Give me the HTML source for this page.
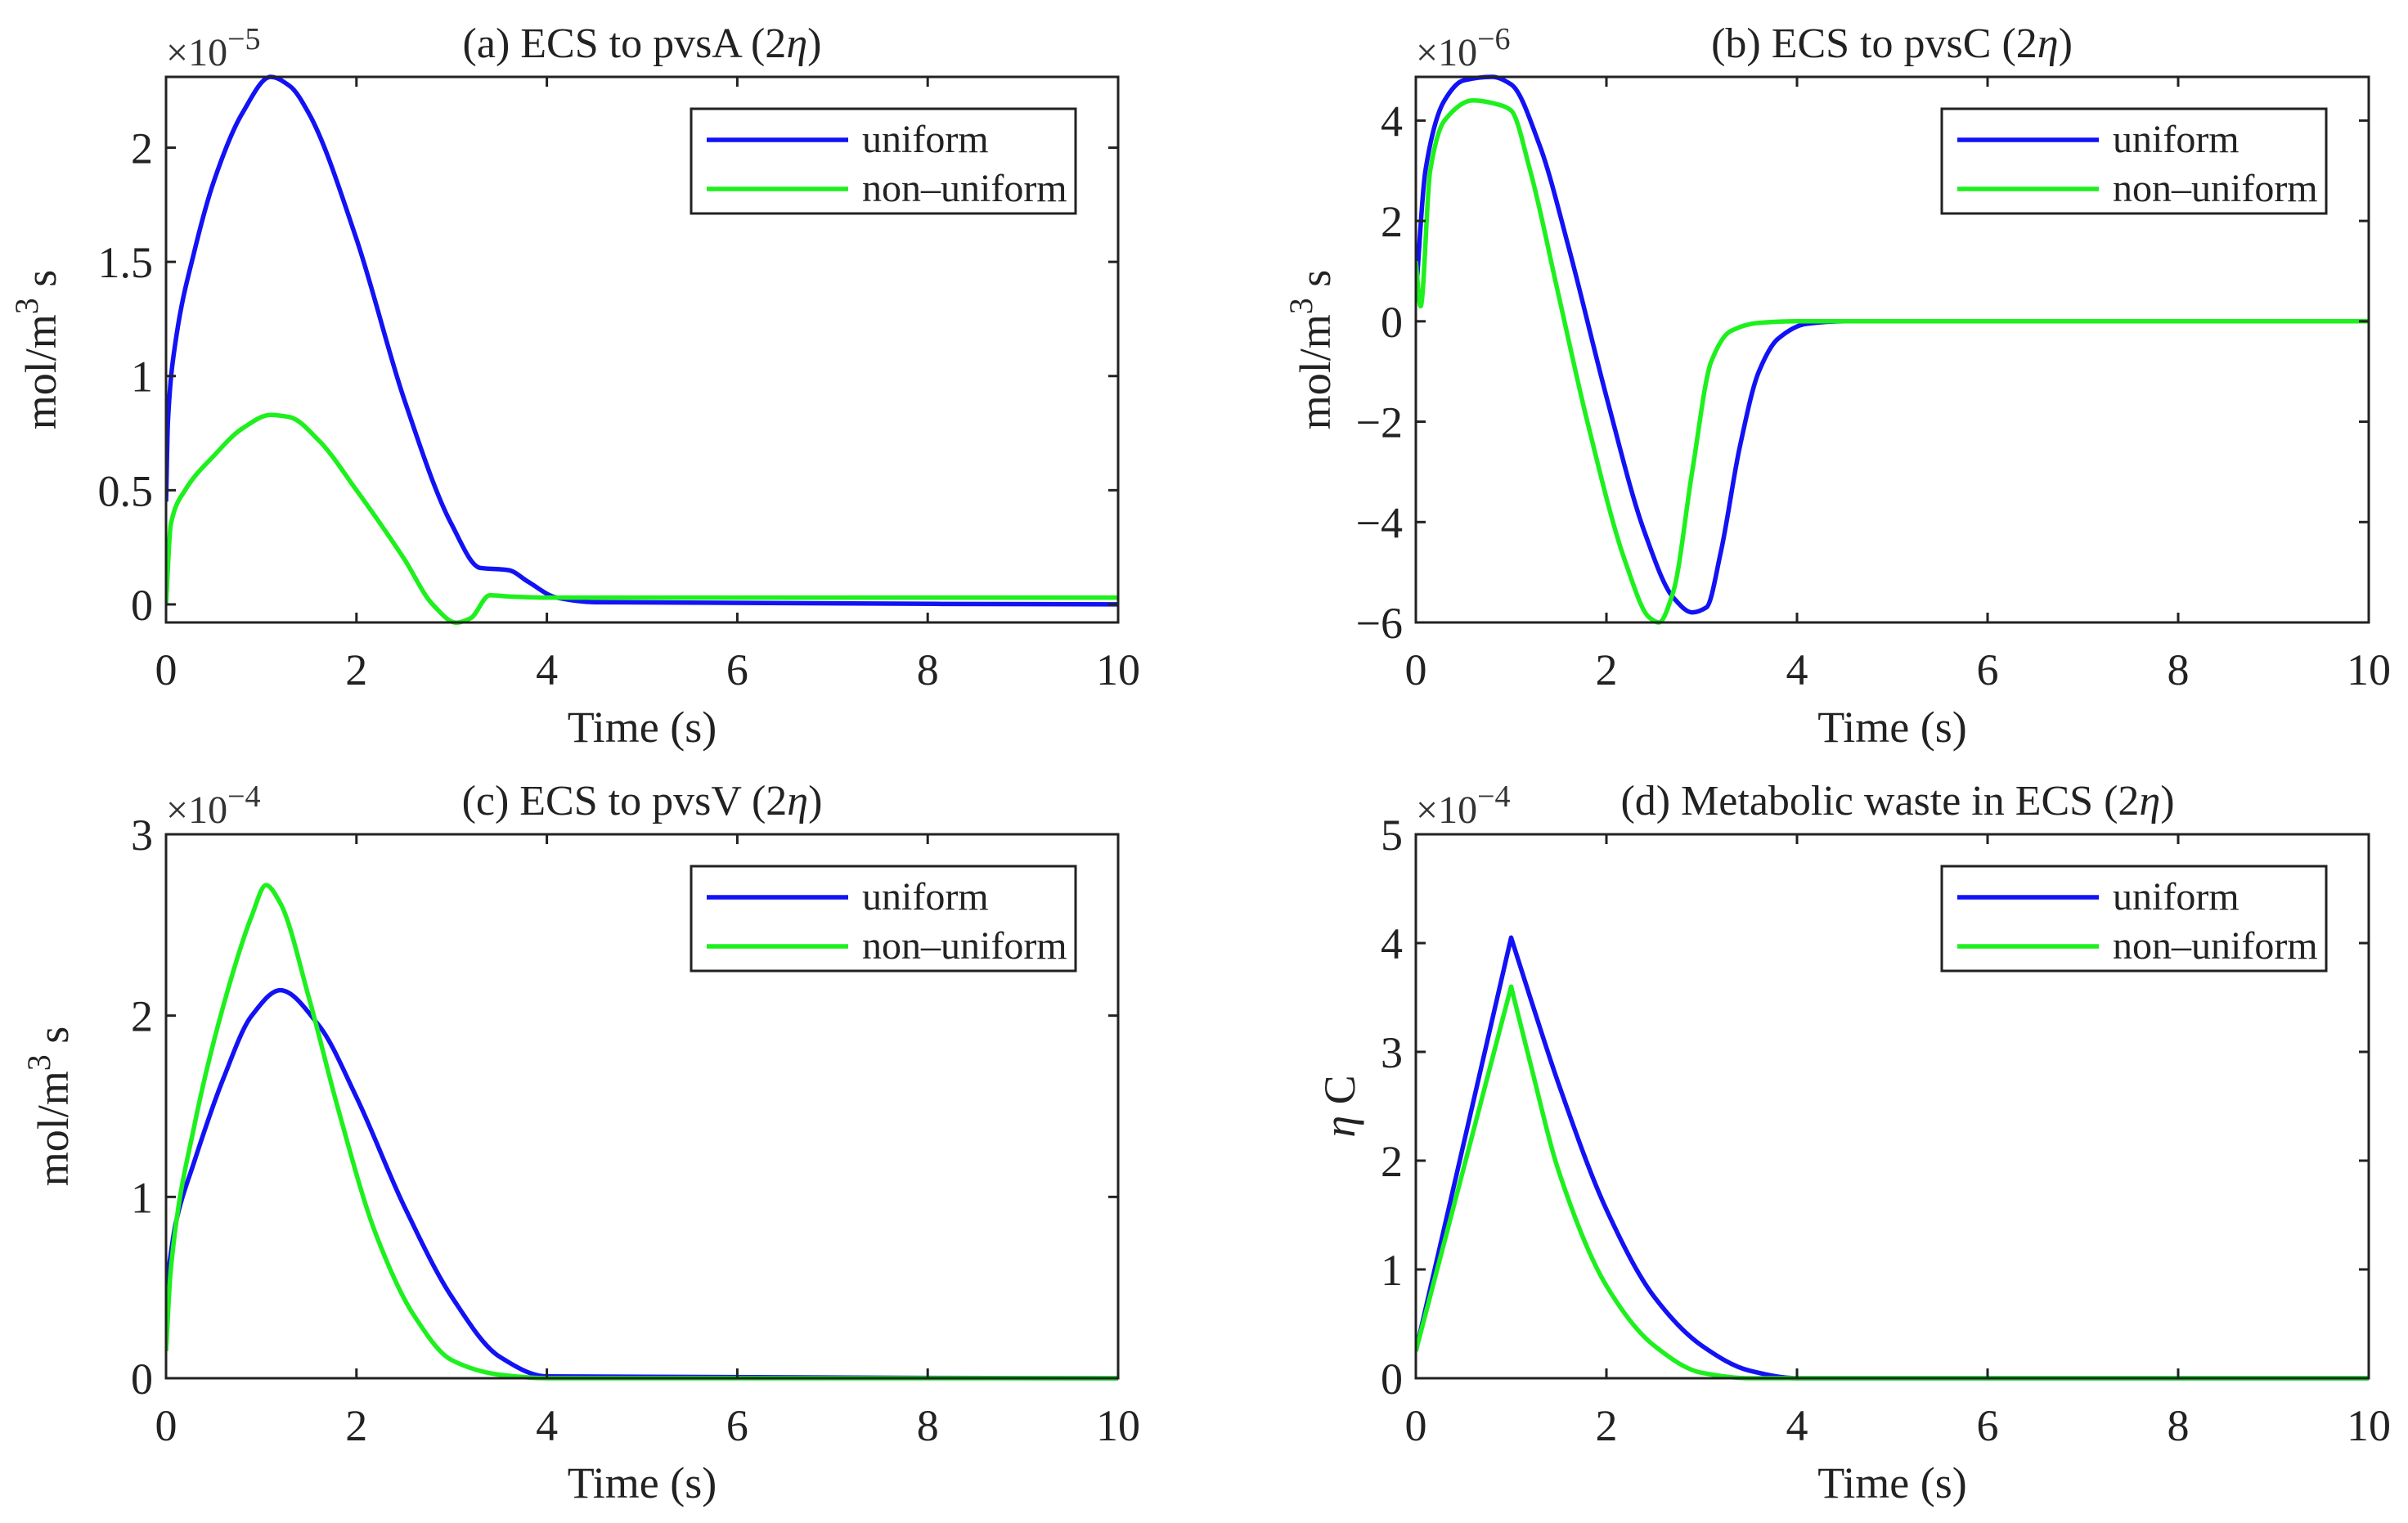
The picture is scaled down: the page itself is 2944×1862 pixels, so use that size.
<!DOCTYPE html>
<html><head><meta charset="utf-8"><style>
html,body{margin:0;padding:0;background:#fff;}
svg{display:block;font-family:"Liberation Serif",serif;}
</style></head><body>
<svg id="fig" width="2944" height="1862" viewBox="0 0 2944 1862" xmlns="http://www.w3.org/2000/svg"></svg>
<script>
// ---- data (time in s) ----
const tA_u=[0,0.02,0.1,0.3,0.5,0.8,1.1,1.3,1.5,2.0,2.5,3.0,3.3,3.6,3.8,4.1,4.5,10];
const yA_u=[0.45,0.8,1.15,1.55,1.85,2.15,2.31,2.27,2.15,1.6,0.9,0.35,0.16,0.15,0.1,0.03,0.01,0.0];
const tA_n=[0,0.05,0.2,0.5,0.8,1.1,1.3,1.6,2.0,2.5,2.8,3.05,3.2,3.4,3.6,4,10];
const yA_n=[0,0.35,0.5,0.65,0.77,0.83,0.82,0.72,0.5,0.2,0.0,-0.08,-0.06,0.04,0.035,0.03,0.03];
const tB_u=[0,0.1,0.3,0.5,0.8,1.0,1.3,1.6,2.0,2.4,2.7,2.9,3.05,3.2,3.4,3.6,3.8,4.1,4.5,10];
const yB_u=[0.5,3.0,4.4,4.8,4.87,4.72,3.5,1.5,-1.5,-4.2,-5.5,-5.8,-5.7,-4.6,-2.5,-1.0,-0.35,-0.05,0,0];
const tB_n=[0,0.05,0.15,0.3,0.6,0.9,1.0,1.2,1.5,1.8,2.2,2.45,2.55,2.7,2.9,3.1,3.3,3.6,4,10];
const yB_n=[1.2,0.3,3.0,4.0,4.4,4.3,4.2,3.0,0.5,-2.0,-4.8,-5.9,-6.0,-5.4,-3.0,-0.8,-0.2,-0.03,0,0];
const tC_u=[0,0.1,0.3,0.6,0.9,1.2,1.6,2.0,2.5,3.0,3.5,4.0,10];
const yC_u=[0.5,0.85,1.2,1.65,2.0,2.14,1.95,1.55,0.95,0.45,0.12,0.01,0];
const tC_n=[0,0.05,0.3,0.6,0.9,1.05,1.2,1.5,1.8,2.2,2.6,3.0,3.5,4,10];
const yC_n=[0.15,0.6,1.4,2.05,2.55,2.72,2.62,2.1,1.5,0.8,0.35,0.1,0.02,0,0];
const tD_u=[0,1.0,1.2,1.5,2.0,2.5,3.0,3.5,4.0,10];
const yD_u=[0.25,4.05,3.5,2.7,1.55,0.75,0.3,0.07,0,0];
const tD_n=[0,1.0,1.2,1.5,2.0,2.5,3.0,3.5,10];
const yD_n=[0.25,3.6,2.9,1.9,0.85,0.3,0.05,0,0];
const xTicks=[0,2,4,6,8,10];
const yTicksA=[0,0.5,1,1.5,2];
const yTickLabelsA=['0','0.5','1','1.5','2'];
const yTicksB=[-6,-4,-2,0,2,4];
const yTicksC=[0,1,2,3];
const yTicksD=[0,1,2,3,4,5];
const legendLabels=['uniform','non\u2013uniform'];

const NS='http://www.w3.org/2000/svg';
const svg=document.getElementById('fig');
function mk(tag,attrs,parent){const e=document.createElementNS(NS,tag);for(const k in attrs)e.setAttribute(k,attrs[k]);(parent||svg).appendChild(e);return e;}
const BLUE='#1212f5', GREEN='#1ef01e';

function monoPath(xs,ys,corners){
  const n=xs.length, d=[], mIn=[], mOut=[];
  for(let i=0;i<n-1;i++)d.push((ys[i+1]-ys[i])/(xs[i+1]-xs[i]));
  for(let i=0;i<n;i++){
    let m;
    if(i===0)m=d[0];else if(i===n-1)m=d[n-2];
    else if(d[i-1]*d[i]<=0)m=0;
    else{const w1=2*(xs[i+1]-xs[i])+(xs[i]-xs[i-1]),w2=(xs[i+1]-xs[i])+2*(xs[i]-xs[i-1]);m=(w1+w2)/(w1/d[i-1]+w2/d[i]);}
    mIn[i]=m;mOut[i]=m;
    if(corners&&corners.indexOf(i)>=0){mIn[i]=d[i-1];mOut[i]=d[i];}
  }
  let p='M'+xs[0].toFixed(1)+','+ys[0].toFixed(1);
  for(let i=0;i<n-1;i++){
    const h=xs[i+1]-xs[i];
    p+=' C'+(xs[i]+h/3).toFixed(1)+','+(ys[i]+mOut[i]*h/3).toFixed(1)+' '+(xs[i+1]-h/3).toFixed(1)+','+(ys[i+1]-mIn[i+1]*h/3).toFixed(1)+' '+xs[i+1].toFixed(1)+','+ys[i+1].toFixed(1);
  }
  return p;
}

function panel(cfg){
  const g=mk('g',{});
  
  
  const L=cfg.L,R=cfg.R,T=cfg.T,B=cfg.B;
  const sx=v=>L+(v-0)/(10-0)*(R-L);
  const sy=v=>B-(v-cfg.ymin)/(cfg.ymax-cfg.ymin)*(B-T);
  const clipId='clip'+cfg.id;
  const cp=mk('clipPath',{id:clipId},g);mk('rect',{x:L,y:T-4,width:R-L,height:B-T+8},cp);
  function line(ts,ys,col,nm,corners){
    const d=monoPath(ts.map(sx),ys.map(sy),corners);
    const p=mk('path',{d:d,fill:'none',stroke:col,'stroke-width':5.5,'stroke-linejoin':'round','clip-path':'url(#'+clipId+')'},g);
    
    
  }
  line(cfg.tu,cfg.yu,BLUE,'uniform-line',cfg.corners);
  line(cfg.tn,cfg.yn,GREEN,'non-uniform-line',cfg.corners);
  const fr=mk('rect',{x:L,y:T,width:R-L,height:B-T,fill:'none',stroke:'#222','stroke-width':3},g);
  
  
  xTicks.forEach(v=>{
    const x=sx(v);
    mk('line',{x1:x,y1:B,x2:x,y2:B-12,stroke:'#222','stroke-width':3},g);
    mk('line',{x1:x,y1:T,x2:x,y2:T+12,stroke:'#222','stroke-width':3},g);
    const t=mk('text',{x:x,y:B+76,'font-size':54,'text-anchor':'middle',fill:'#222'},g);
    t.textContent=String(v);
    
    
  });
  cfg.yt.forEach((v,i)=>{
    const y=sy(v);
    mk('line',{x1:L,y1:y,x2:L+12,y2:y,stroke:'#222','stroke-width':3},g);
    mk('line',{x1:R,y1:y,x2:R-12,y2:y,stroke:'#222','stroke-width':3},g);
    const t=mk('text',{x:L-16,y:y+19,'font-size':54,'text-anchor':'end',fill:'#222'},g);
    t.textContent=cfg.ytl?cfg.ytl[i]:(v<0?'\u2212'+(-v):String(v));
    
    
  });
  const ex=mk('text',{x:L,y:T-14,'font-size':48,fill:'#333'},g);
  ex.textContent='\u00d710';
  const es=mk('tspan',{dy:-20,'font-size':38},ex);es.textContent=cfg.exp;
  
  
  const ti=mk('text',{x:cfg.tx,y:T-24,'font-size':52,'text-anchor':'middle',fill:'#222'},g);
  ti.textContent=cfg.title;
  const eta=mk('tspan',{'font-style':'italic'},ti);eta.textContent='\u03b7';
  const cl=mk('tspan',{},ti);cl.textContent=')';
  
  
  const xl=mk('text',{x:(L+R)/2,y:B+146,'font-size':54,'text-anchor':'middle',fill:'#222'},g);
  xl.textContent='Time (s)';
  
  
  const yc=(T+B)/2, yx=L-cfg.ylOff;
  const yl=mk('text',{x:yx,y:yc,'font-size':54,'text-anchor':'middle',fill:'#222',transform:'rotate(-90 '+yx+' '+yc+')'},g);
  if(cfg.ylab==='eta'){
    const a=mk('tspan',{'font-style':'italic'},yl);a.textContent='\u03b7';
    const b=mk('tspan',{},yl);b.textContent=' C';
  } else {
    const a=mk('tspan',{},yl);a.textContent='mol/m';
    const b=mk('tspan',{dy:-22,'font-size':40},yl);b.textContent='3';
    const c=mk('tspan',{dy:22},yl);c.textContent=' s';
  }
  
  
  const lg=mk('g',{},g);
  
  
  const bx=R-522, by=T+39;
  mk('rect',{x:bx,y:by,width:470,height:128,fill:'#fff',stroke:'#222','stroke-width':3},lg);
  [BLUE,GREEN].forEach((c,i)=>{
    const yy=by+38+i*60;
    mk('line',{x1:bx+19,y1:yy,x2:bx+192,y2:yy,stroke:c,'stroke-width':5.5},lg);
    const t=mk('text',{x:bx+209,y:yy+15,'font-size':48,fill:'#222'},lg);
    t.textContent=legendLabels[i];
    
    
  });
}
panel({id:'a',name:'panel-a',L:203,R:1367,T:94,B:761,ymin:-0.079,ymax:2.31,yt:yTicksA,ytl:yTickLabelsA,tu:tA_u,yu:yA_u,tn:tA_n,yn:yA_n,exp:'\u22125',title:'(a) ECS to pvsA (2',tx:785,ylab:'mol',ylOff:135});
panel({id:'b',name:'panel-b',L:1731,R:2896,T:94,B:761,ymin:-6,ymax:4.87,yt:yTicksB,tu:tB_u,yu:yB_u,tn:tB_n,yn:yB_n,exp:'\u22126',title:'(b) ECS to pvsC (2',tx:2313,ylab:'mol',ylOff:105});
panel({id:'c',name:'panel-c',L:203,R:1367,T:1020,B:1685,ymin:0,ymax:3,yt:yTicksC,tu:tC_u,yu:yC_u,tn:tC_n,yn:yC_n,exp:'\u22124',title:'(c) ECS to pvsV (2',tx:785,ylab:'mol',ylOff:120});
panel({id:'d',name:'panel-d',L:1731,R:2896,T:1020,B:1685,ymin:0,ymax:5,yt:yTicksD,tu:tD_u,yu:yD_u,tn:tD_n,yn:yD_n,exp:'\u22124',title:'(d) Metabolic waste in ECS (2',tx:2320,ylab:'eta',ylOff:75,corners:[1]});
</script>
</body></html>
